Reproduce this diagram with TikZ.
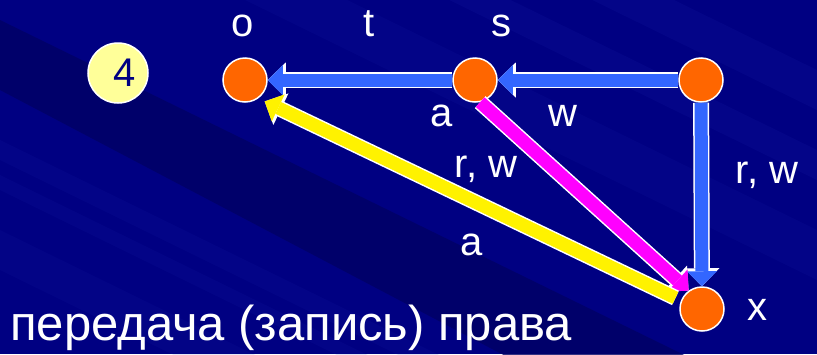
\documentclass[tikz,border=0pt]{standalone}
\usepackage{fontspec}
\setmainfont{Liberation Sans}
\usetikzlibrary{arrows.meta}

\definecolor{navy}{RGB}{0,0,130}
\definecolor{darknavy}{RGB}{0,0,100}
\definecolor{streak}{RGB}{30,40,175}
\definecolor{dot}{RGB}{255,102,0}
\definecolor{pale}{RGB}{255,255,153}
\definecolor{arrblue}{RGB}{51,102,255}
\definecolor{pink}{RGB}{255,0,255}

\tikzset{
  vertex/.style={circle, fill=dot, draw=white, line width=1.5pt, minimum size=44pt, inner sep=0pt},
  badge/.style={circle, fill=pale, draw=white, line width=1.5pt, minimum size=60pt, inner sep=0pt,
    text=navy, font=\fontsize{40}{48}\selectfont},
  lbl/.style={text=white, font=\fontsize{40}{48}\selectfont, inner sep=0pt, anchor=base},
  blk/.style={draw=#1, line width=13pt,
    -{Triangle[width=30pt,length=15pt,line width=0pt]},
    preaction={draw=white, line width=16pt,
      -{Triangle[width=35pt,length=18pt,line width=0pt]}}},
}

\begin{document}
\begin{tikzpicture}[x=1pt, y=-1pt]
\useasboundingbox (0,0) rectangle (817,354);
% backdrop with slanted streaks
\fill[navy] (0,0) rectangle (817,354);
\begin{scope}
  \clip (0,0) rectangle (817,354);
  \fill[darknavy, opacity=0.8] (0,20) -- (817,420) -- (817,520) -- (0,90) -- cycle;
  \foreach \c/\w/\o in {-330/40/0.15, -250/30/0.15, -170/50/0.12, 140/20/0.12, 175/15/0.12, 230/40/0.1}
    \fill[streak, opacity=\o] (0,\c) -- (817,\c+400) -- (817,\c+400+\w) -- (0,\c+\w) -- cycle;
\end{scope}

% vertices
\node[vertex] (o) at (245,80) {};
\node[vertex] (s) at (475,80) {};
\node[vertex] (q) at (701,80) {};
\node[vertex] (x) at (702,309) {};
\node[badge] (num) at (118,73) {\hspace*{14pt}4};

% rights
\draw[blk=arrblue] (s) -- (o);
\draw[blk=arrblue] (q) -- (s);
\draw[blk=arrblue] (q) -- (x);
\draw[blk=pink] (s.-77) -- (x.126);
\draw[blk=yellow, shorten <=6pt, shorten >=7pt] (x.158) -- (o.-54);

% names and labels
\node[lbl] (lo) at (243,36) {o};
\node[lbl] (lt) at (369,36) {t};
\node[lbl] (ls) at (501,36) {s};
\node[lbl] (la) at (442,126) {a};
\node[lbl] (lw) at (563,126) {w};
\node[lbl] (lrw) at (486,177) {r, w};
\node[lbl] (lrwx) at (767,183) {r, w};
\node[lbl] (lay) at (472,255) {a};
\node[lbl] (lx) at (757,320) {x};
\node[lbl, font=\fontsize{49}{58}\selectfont, anchor=base west] (cap) at (10,340) {передача (запись) права};
\end{tikzpicture}
\end{document}
